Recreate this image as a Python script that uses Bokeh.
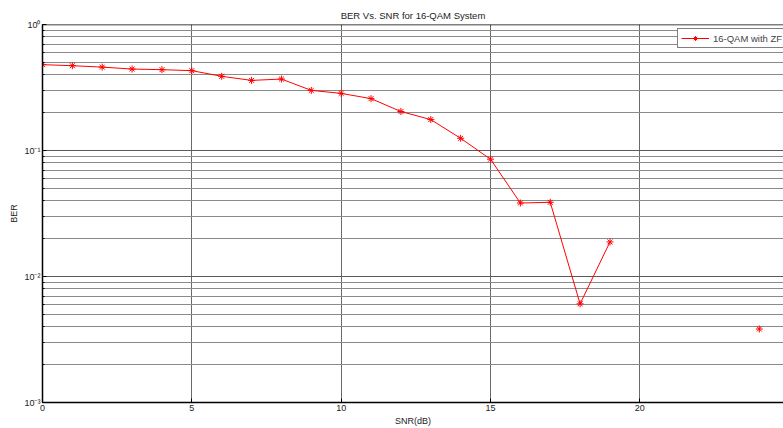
import math
from bokeh.plotting import figure
from bokeh.models import (Range1d, SingleIntervalTicker, LogTicker, CustomJSTickFormatter,
                          Span, Legend, LegendItem)
from bokeh.embed import file_html
from bokeh.resources import INLINE

# ---- data ----
snr_db = [0, 1, 2, 3, 4, 5, 6, 7, 8, 9, 10, 11, 12, 13, 14, 15, 16, 17, 18, 19, 20, 21, 22, 23, 24]
ber = [0.480, 0.471, 0.459, 0.443, 0.438, 0.430, 0.388, 0.360, 0.369, 0.300,
       0.284, 0.258, 0.204, 0.176, 0.125, 0.0853, 0.0383, 0.0388, 0.00607, 0.0188,
       float("nan"), float("nan"), float("nan"), float("nan"), 0.00383]
series_name = "16-QAM with ZF"
title_text = "BER Vs. SNR for 16-QAM System"
x_label = "SNR(dB)"
y_label = "BER"

FONT = "Liberation Sans"
X_MAX = 24.81

p = figure(width=783, height=428, output_backend="svg", toolbar_location=None,
           y_axis_type="log",
           x_range=Range1d(0, X_MAX), y_range=Range1d(1e-3, 1),
           min_border_left=42, min_border_right=0, min_border_top=24, min_border_bottom=24)
p.outline_line_color = None
p.background_fill_color = "white"
p.border_fill_color = "white"

p.title.text = title_text
p.title.align = "center"
p.title.vertical_align = "bottom"
p.title.text_font = FONT
p.title.text_font_size = "9.5px"
p.title.text_font_style = "normal"
p.title.text_color = "#222222"
p.title.standoff = 8
p.title.offset = 0

# axes
p.xaxis.ticker = SingleIntervalTicker(interval=5, num_minor_ticks=0)
p.yaxis.ticker = LogTicker(num_minor_ticks=10)
p.yaxis.formatter = CustomJSTickFormatter(code="""
const e = Math.round(Math.log10(tick));
const sup = {'-':'\u207b','0':'\u2070','1':'\u00b9','2':'\u00b2','3':'\u00b3','4':'\u2074','5':'\u2075'};
return '10' + String(e).split('').map(c => sup[c]).join('');
""")
for ax in (p.xaxis, p.yaxis):
    ax.axis_line_color = "black"
    ax.axis_line_width = 1.5
    ax.major_tick_in = 4
    ax.major_tick_out = 0
    ax.minor_tick_in = 2
    ax.minor_tick_out = 0
    ax.major_tick_line_color = "black"
    ax.minor_tick_line_color = "black"
    ax.major_label_text_font = FONT
    ax.major_label_text_font_size = "9px"
    ax.major_label_text_color = "#222222"
    ax.axis_label_text_font = FONT
    ax.axis_label_text_font_size = "9px"
    ax.axis_label_text_font_style = "normal"
    ax.axis_label_text_color = "#222222"
    ax.major_label_standoff = 2
    ax.axis_label_standoff = 2
p.xaxis.axis_label = x_label
p.yaxis.axis_label = y_label

# grid
p.xgrid.grid_line_color = "#6a6a6a"
p.xgrid.grid_line_width = 1
p.ygrid.grid_line_color = "#5a5a5a"
p.ygrid.minor_grid_line_color = "#8a8a8a"
p.ygrid.grid_line_width = 1
p.ygrid.minor_grid_line_width = 1

# top border
p.add_layout(Span(location=1, dimension="width", line_color="black", line_width=1.5))

# data
ln = p.line(snr_db, ber, line_color="red", line_width=1)
sc = p.scatter(snr_db, ber, marker="asterisk", size=7, line_color="red", line_width=1)

legend = Legend(items=[LegendItem(label=series_name, renderers=[ln, sc])],
                location=(635, 354))
legend.border_line_color = "black"
legend.border_line_width = 1
legend.label_text_font = FONT
legend.label_text_font_size = "9.5px"
legend.label_height = 12
legend.glyph_height = 12
legend.glyph_width = 28
legend.label_standoff = 4
legend.padding = 3
legend.spacing = 0
legend.margin = 0
legend.background_fill_alpha = 1
p.add_layout(legend)

open("out.html", "w").write(file_html(p, INLINE))
